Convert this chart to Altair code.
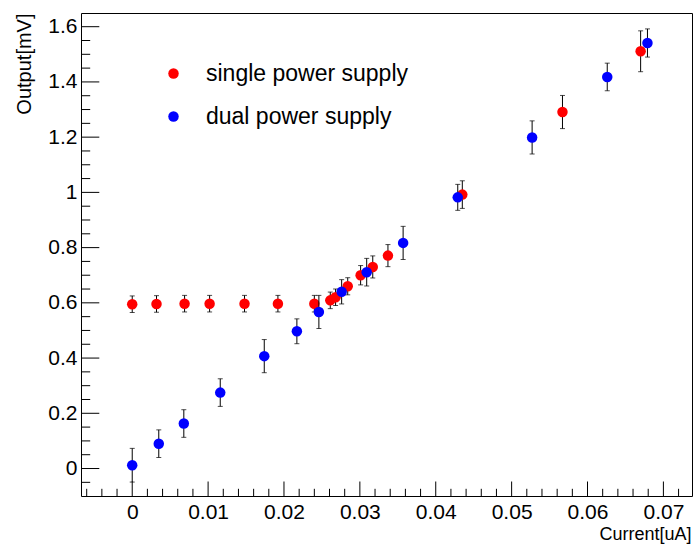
import altair as alt
import pandas as pd

# ---- data ----
series_names = ["single power supply", "dual power supply"]
series_colors = ["#ff0000", "#0000ff"]

x_single = [0.0, 0.0032, 0.0069, 0.0102, 0.0148, 0.0192, 0.0240, 0.0261, 0.0268,
            0.0284, 0.0301, 0.0317, 0.0337, 0.0435, 0.0567, 0.0670]
y_single = [0.595, 0.596, 0.597, 0.597, 0.597, 0.597, 0.597, 0.609, 0.620,
            0.660, 0.700, 0.730, 0.771, 0.992, 1.291, 1.511]
e_single = [0.030, 0.030, 0.030, 0.030, 0.030, 0.030, 0.030, 0.030, 0.030,
            0.031, 0.035, 0.040, 0.040, 0.050, 0.060, 0.074]

x_dual = [0.0, 0.0035, 0.0068, 0.0116, 0.0174, 0.0217, 0.0246, 0.0276, 0.0309,
          0.0357, 0.0429, 0.0527, 0.0626, 0.0679]
y_dual = [0.012, 0.090, 0.163, 0.275, 0.407, 0.497, 0.567, 0.640, 0.711,
          0.817, 0.982, 1.199, 1.418, 1.541]
e_dual = [0.061, 0.050, 0.050, 0.050, 0.060, 0.045, 0.060, 0.044, 0.050,
          0.060, 0.047, 0.060, 0.050, 0.051]

x_major = [0.0, 0.01, 0.02, 0.03, 0.04, 0.05, 0.06, 0.07]
x_minor = [-0.006, -0.004, -0.002, 0.002, 0.004, 0.006, 0.008, 0.012, 0.014, 0.016, 0.018,
           0.022, 0.024, 0.026, 0.028, 0.032, 0.034, 0.036, 0.038, 0.042, 0.044, 0.046,
           0.048, 0.052, 0.054, 0.056, 0.058, 0.062, 0.064, 0.066, 0.068, 0.072]
y_major = [0.0, 0.2, 0.4, 0.6, 0.8, 1.0, 1.2, 1.4, 1.6]
y_minor = [-0.05, 0.05, 0.1, 0.15, 0.25, 0.3, 0.35, 0.45, 0.5, 0.55, 0.65, 0.7, 0.75,
           0.85, 0.9, 0.95, 1.05, 1.1, 1.15, 1.25, 1.3, 1.35, 1.45, 1.5, 1.55]

x_domain = [-0.00675, 0.07377]
y_domain = [-0.0995, 1.6496]

W, H = 611, 483
FONT = "Liberation Sans"

df_single = pd.DataFrame({"x": x_single, "y": y_single, "err": e_single,
                          "series": series_names[0]})
df_dual = pd.DataFrame({"x": x_dual, "y": y_dual, "err": e_dual,
                        "series": series_names[1]})

xs = alt.Scale(domain=x_domain, nice=False, zero=False)
ys = alt.Scale(domain=y_domain, nice=False, zero=False)

x_axis = alt.Axis(values=x_major, format="~g", grid=False, domain=False, ticks=False,
                  tickSize=0, labelFont=FONT, labelFontSize=21, labelColor="black",
                  labelBaseline="alphabetic", labelPadding=22,
                  title="Current[uA]", titleFont=FONT, titleFontSize=18,
                  titleFontWeight="normal", titleColor="black",
                  titleAlign="right", titleBaseline="alphabetic",
                  titleX=W - 1, titleY=43)
y_axis = alt.Axis(values=y_major, format="~g", grid=False, domain=False, ticks=False,
                  tickSize=0, labelFont=FONT, labelFontSize=21, labelColor="black",
                  labelBaseline="middle", labelPadding=4,
                  title="Output[mV]", titleFont=FONT, titleFontSize=20,
                  titleFontWeight="normal", titleColor="black",
                  titleAngle=270, titleAlign="right", titleBaseline="middle",
                  titleX=-57, titleY=0)

X = alt.X("x:Q", scale=xs, axis=x_axis)
Y = alt.Y("y:Q", scale=ys, axis=y_axis)

# inside ticks (ROOT style)
xt_major = alt.Chart(pd.DataFrame({"x": x_major})).mark_rule(color="black", strokeWidth=1).encode(
    x=X, y=alt.value(H), y2=alt.value(H - 14.5))
xt_minor = alt.Chart(pd.DataFrame({"x": x_minor})).mark_rule(color="black", strokeWidth=1).encode(
    x=X, y=alt.value(H), y2=alt.value(H - 7.2))
yt_major = alt.Chart(pd.DataFrame({"y": y_major})).mark_rule(color="black", strokeWidth=1).encode(
    y=Y, x=alt.value(0), x2=alt.value(18.3))
yt_minor = alt.Chart(pd.DataFrame({"y": y_minor})).mark_rule(color="black", strokeWidth=1).encode(
    y=Y, x=alt.value(0), x2=alt.value(9.2))

color = alt.Color("series:N",
                  scale=alt.Scale(domain=series_names, range=series_colors),
                  legend=alt.Legend(title=None, orient="none", legendX=81, legendY=49,
                                    padding=0, labelOffset=21, rowPadding=19,
                                    symbolType="circle", symbolSize=110,
                                    symbolStrokeWidth=0, labelFont=FONT,
                                    labelFontSize=23, labelColor="black", labelLimit=0))


def series_layers(df):
    base = alt.Chart(df).transform_calculate(lo="datum.y - datum.err",
                                             hi="datum.y + datum.err")
    bars = base.mark_rule(color="black", strokeWidth=1).encode(
        x=X, y=alt.Y("lo:Q", scale=ys, axis=y_axis), y2="hi:Q")
    caps = base.transform_fold(["lo", "hi"], as_=["k", "v"]).mark_tick(
        orient="horizontal", size=5, thickness=1, color="black").encode(
        x=X, y=alt.Y("v:Q", scale=ys, axis=y_axis))
    pts = base.mark_circle(size=110, opacity=1).encode(x=X, y=Y, color=color)
    return [bars, caps, pts]


chart = alt.layer(
    xt_major, xt_minor, yt_major, yt_minor,
    *series_layers(df_single), *series_layers(df_dual)
).properties(
    width=W, height=H,
    autosize=alt.AutoSizeParams(type="none"),
    padding={"left": 81, "top": 13, "right": 2, "bottom": 52},
    background="white",
).configure_view(stroke="black", strokeWidth=1)

chart.save("out.html", embed_options={"renderer": "svg", "actions": False})
